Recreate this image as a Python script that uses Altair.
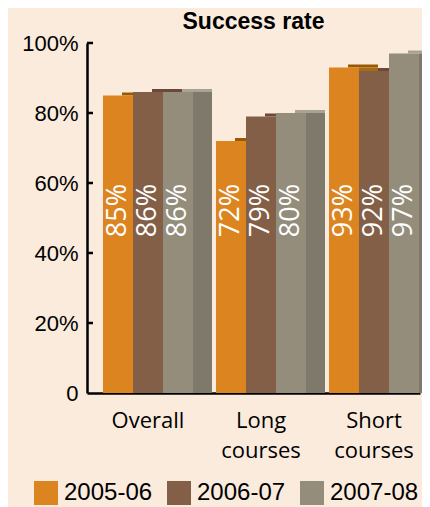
import altair as alt
import pandas as pd

categories = ["Overall", "Long courses", "Short courses"]
years = ["2005-06", "2006-07", "2007-08"]
overall = [85, 86, 86]
long_courses = [72, 79, 80]
short_courses = [93, 92, 97]
y_ticks = [20, 40, 60, 80, 100]
label_start = 44.5
title_text = ["Success rate"]

front_colors = ["#DC8520", "#845F48", "#948D7C"]
side_colors = ["#A86A12", "#6E4E3C", "#7F796C"]
top_colors = ["#9A5800", "#6A4938", "#A9A395"]

rows = []
for cat, vals in zip(categories, [overall, long_courses, short_courses]):
    for yr, v in zip(years, vals):
        rows.append({"category": cat, "year": yr, "value": v,
                     "label": f"{v}%", "label_y": label_start})
df = pd.DataFrame(rows)
ticks_df = pd.DataFrame({"t": y_ticks})
title_df = pd.DataFrame({"title": title_text})

W, H = 333, 350

xscale = alt.Scale(paddingInner=23 / 113, paddingOuter=0.0752, align=16 / 17)
x_axis = alt.Axis(title=None, labelAngle=0, ticks=False, domainColor="black",
                  domainWidth=2.5, labelFont="Open Sans", labelFontSize=22,
                  labelColor="black", labelPadding=17, labelLineHeight=30,
                  labelExpr="datum.label == 'Overall' ? 'Overall' : split(datum.label, ' ')")
y_axis = alt.Axis(title=None, values=[0, 20, 40, 60, 80, 100], ticks=False, grid=False,
                  labelExpr="datum.value == 0 ? '0' : datum.value + '%'",
                  labelFont="Liberation Sans", labelFontSize=22, labelColor="black",
                  labelPadding=9, domainColor="black", domainWidth=2.5)
yscale = alt.Scale(domain=[0, 100])

base = alt.Chart(df)

top = base.mark_bar(yOffset=-3, y2Offset=0).encode(
    x=alt.X("category:N", sort=categories, scale=xscale, axis=x_axis),
    xOffset=alt.XOffset("year:N", sort=years, scale=alt.Scale(range=[19, 109])),
    y=alt.Y("value:Q", scale=yscale, axis=y_axis),
    y2="value:Q",
    color=alt.Color("year:N", scale=alt.Scale(domain=years, range=top_colors), legend=None),
)
side = base.mark_bar(width=19).encode(
    x=alt.X("category:N", sort=categories, scale=xscale),
    xOffset=alt.XOffset("year:N", sort=years, scale=alt.Scale(range=[24.5, 114.5])),
    y=alt.Y("value:Q", scale=yscale),
    color=alt.Color("year:N", scale=alt.Scale(domain=years, range=side_colors), legend=None),
)
front = base.mark_bar().encode(
    x=alt.X("category:N", sort=categories, scale=xscale),
    xOffset=alt.XOffset("year:N", sort=years),
    y=alt.Y("value:Q", scale=yscale),
    color=alt.Color("year:N", scale=alt.Scale(domain=years, range=front_colors),
                    legend=alt.Legend(title=None, orient="none", legendX=-53, legendY=438,
                                      direction="horizontal", symbolType="square",
                                      symbolSize=576, symbolStrokeWidth=0, symbolOpacity=1,
                                      labelFont="Liberation Sans", labelFontSize=24,
                                      labelColor="black", labelOffset=6, columnPadding=14,
                                      padding=0)),
)
text = base.mark_text(angle=270, align="left", baseline="middle", color="white",
                      font="Open Sans", fontSize=27).encode(
    x=alt.X("category:N", sort=categories, scale=xscale),
    xOffset=alt.XOffset("year:N", sort=years),
    y=alt.Y("label_y:Q", scale=yscale),
    text="label:N",
)
tick_rules = alt.Chart(ticks_df).mark_rule(color="black", strokeWidth=2.5).encode(
    y=alt.Y("t:Q", scale=yscale),
    x=alt.value(0),
    x2=alt.value(6),
)
title = alt.Chart(title_df).mark_text(font="Liberation Sans", fontSize=23, fontWeight="bold",
                                      color="black", align="center",
                                      baseline="alphabetic").encode(
    x=alt.value(W / 2),
    y=alt.value(-14),
    text="title:N",
)

chart = alt.layer(top, side, front, text, tick_rules, title).resolve_scale(
    color="independent", xOffset="independent"
).properties(
    width=W,
    height=H,
    autosize=alt.AutoSizeParams(type="none"),
    padding={"left": 79, "top": 35, "right": 2, "bottom": 114},
).configure(background="#FAEBDD").configure_view(stroke=None)

chart.save("out.html", embed_options={"renderer": "svg", "actions": False})
